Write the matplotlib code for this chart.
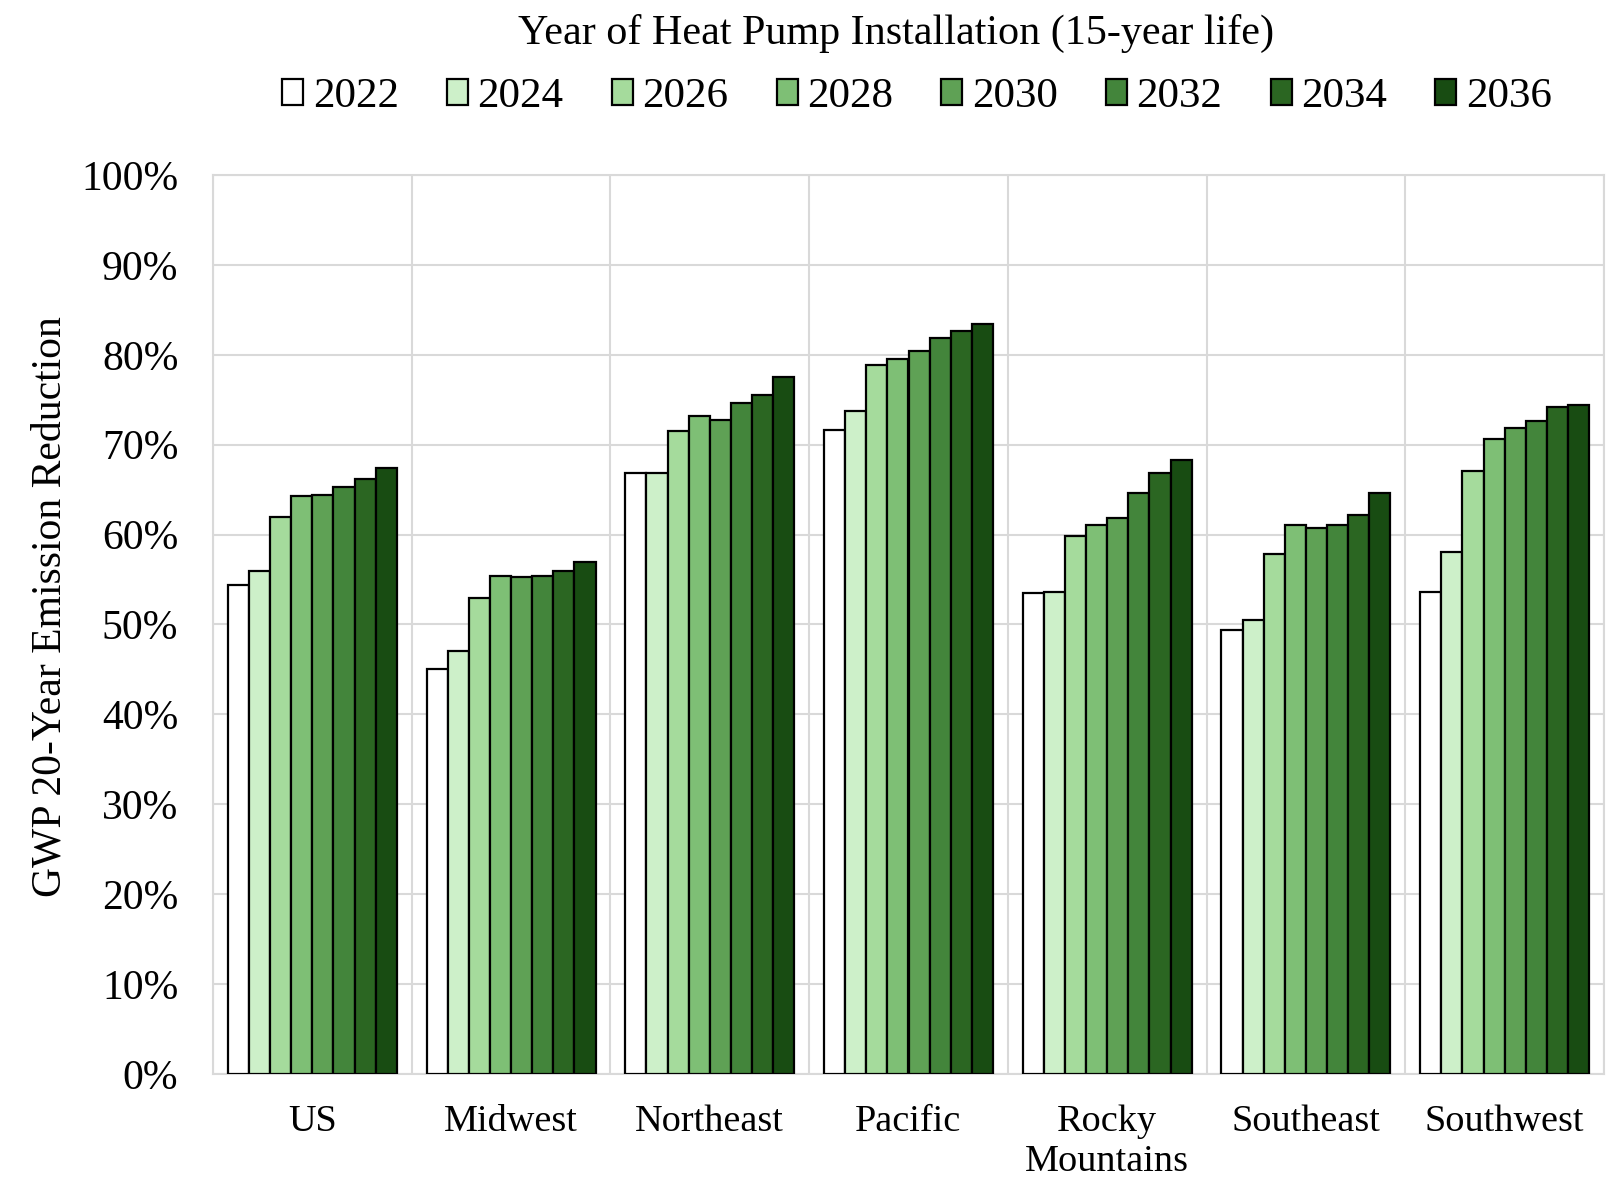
import matplotlib
matplotlib.use("Agg")
import matplotlib.pyplot as plt
import numpy as np

regions = ["US", "Midwest", "Northeast", "Pacific", "Rocky\nMountains", "Southeast", "Southwest"]
years = ["2022", "2024", "2026", "2028", "2030", "2032", "2034", "2036"]

# values in percent, per installation year (series) across regions
v2022 = [54.4, 45.0, 66.8, 71.6, 53.5, 49.4, 53.6]
v2024 = [55.9, 47.0, 66.9, 73.7, 53.6, 50.5, 58.1]
v2026 = [62.0, 52.9, 71.5, 78.9, 59.8, 57.8, 67.1]
v2028 = [64.3, 55.4, 73.2, 79.5, 61.1, 61.1, 70.6]
v2030 = [64.4, 55.3, 72.8, 80.4, 61.9, 60.7, 71.9]
v2032 = [65.3, 55.4, 74.6, 81.9, 64.6, 61.1, 72.6]
v2034 = [66.2, 56.0, 75.5, 82.6, 66.8, 62.2, 74.2]
v2036 = [67.4, 56.9, 77.5, 83.4, 68.3, 64.6, 74.4]
series = [v2022, v2024, v2026, v2028, v2030, v2032, v2034, v2036]

colors = ["#ffffff", "#cdf0c9", "#a5db9c", "#7ebf75", "#5fa155", "#43853b", "#2b6622", "#184c12"]

plt.rcParams['font.family'] = ['Liberation Serif', 'DejaVu Serif']

fig = plt.figure(figsize=(16.18, 11.8), dpi=100)
ax = fig.add_axes([213/1618, 1-1074/1180, (1604-213)/1618, (1074-175)/1180])

n = len(series)
group = 0.85
w = group / n
x = np.arange(len(regions))
handles = []
for i, (vals, c, yr) in enumerate(zip(series, colors, years)):
    off = -group/2 + w*(i+0.5)
    b = ax.bar(x + off, vals, width=w, color=c, edgecolor="black", linewidth=1.6, label=yr, zorder=3)
    handles.append(b)

ax.set_xlim(-0.5, len(regions)-0.5)
ax.set_ylim(0, 100)
ax.set_yticks(np.arange(0, 101, 10))
ax.set_yticklabels([f"{t}%" for t in range(0, 101, 10)], fontsize=30)
ax.set_xticks(x)
ax.set_xticklabels(regions, fontsize=27.5, linespacing=1.2)
ax.set_xticks(np.arange(-0.5, len(regions), 1.0), minor=True)
ax.tick_params(axis='x', which='both', length=0, pad=22)
ax.tick_params(axis='y', length=0, pad=25)
ax.grid(axis='y', which='major', color="#d9d9d9", linewidth=1.5, zorder=0)
ax.grid(axis='x', which='minor', color="#d9d9d9", linewidth=1.5, zorder=0)
ax.grid(axis='x', which='major', visible=False)
for s in ax.spines.values():
    s.set_color("#d9d9d9")
    s.set_linewidth(1.5)

ax.set_ylabel("GWP 20-Year Emission Reduction", fontsize=30)
ax.yaxis.set_label_coords(-0.103, 0.52)

fig.text(896/1618, 1-33/1180, "Year of Heat Pump Installation (15-year life)", fontsize=30.3,
         ha="center", va="center")
leg = fig.legend(handles=handles, labels=years, loc="center", bbox_to_anchor=(917/1618, 1-97/1180),
                 ncol=8, frameon=False, fontsize=31, handlelength=0.49, handleheight=0.55,
                 handletextpad=0.22, columnspacing=1.12, borderaxespad=0)

fig.savefig("out.png", dpi=100)
